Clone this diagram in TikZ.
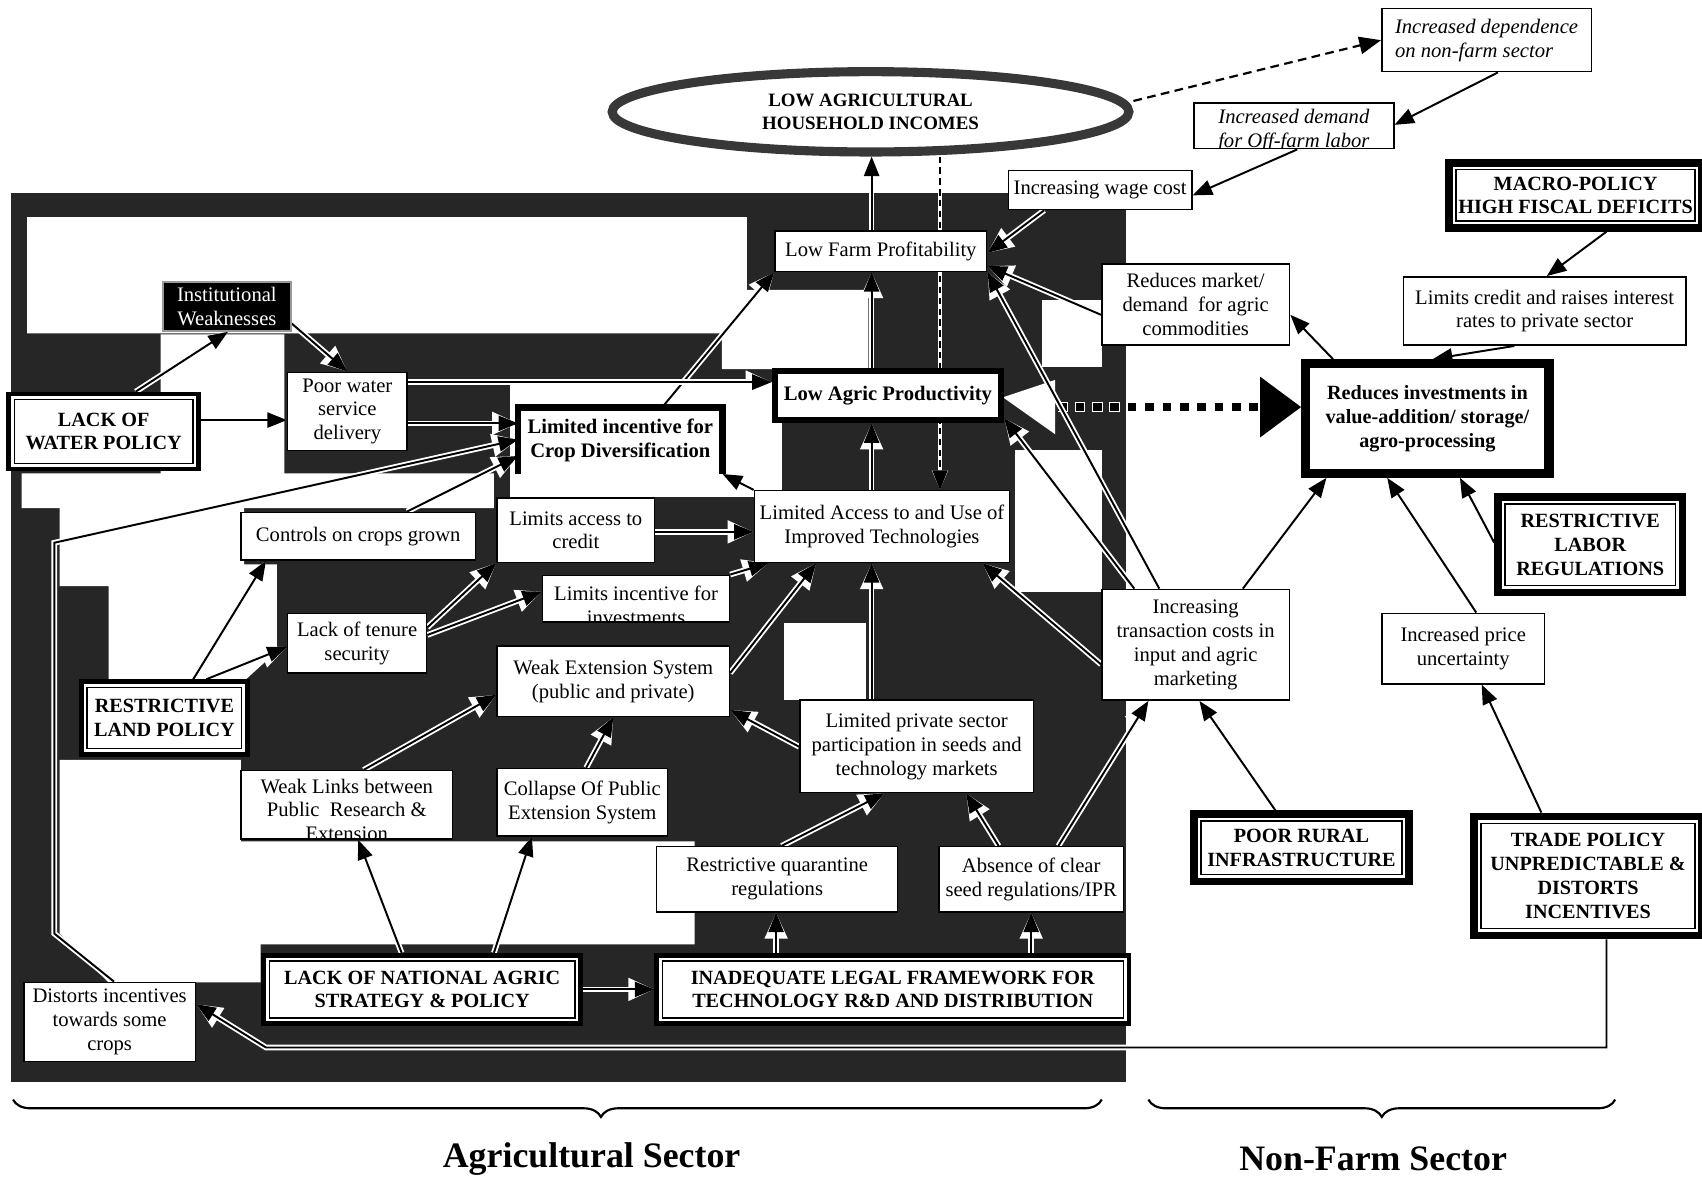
\documentclass[tikz,border=0pt]{standalone}
\usepackage{fontspec}
\setmainfont{Liberation Serif}
\usetikzlibrary{arrows.meta,shapes.geometric,decorations.pathreplacing,calc}
\pgfdeclarelayer{bg}
\pgfsetlayers{bg,main}
\newcommand{\nb}[7]{\node[#6, minimum width={(#4-#2)*0.5pt}, minimum height={(#5-#3)*0.5pt}] (#1) at ({(#2+#4)/2},{(#3+#5)/2}) {#7};}
\tikzset{
 bx/.style={draw=black, line width=0.7pt, fill=white, inner sep=0pt, align=center, font=\fontsize{9.5}{11}\selectfont},
 itb/.style={bx, align=left, font=\fontsize{9.5}{11}\selectfont\itshape},
 thk/.style={bx, line width=3pt, font=\fontsize{9.5}{11}\selectfont\bfseries},
 pol/.style={bx, line width=2.2pt, font=\fontsize{9.3}{11}\selectfont\bfseries,
   path picture={\draw[line width=0.6pt] ([shift={(2.6pt,-2.6pt)}]path picture bounding box.north west) rectangle ([shift={(-2.6pt,2.6pt)}]path picture bounding box.south east);}},
 polw/.style={bx, line width=3.4pt, font=\fontsize{9.3}{11}\selectfont\bfseries,
   path picture={\draw[line width=0.6pt] ([shift={(3.2pt,-3.2pt)}]path picture bounding box.north west) rectangle ([shift={(-3.2pt,3.2pt)}]path picture bounding box.south east);}},
 ar/.style={preaction={draw=white, line width=2.6pt, -{Triangle[length=12pt,width=10pt]}}, draw=black, line width=0.9pt, -{Triangle[length=9pt,width=7pt]}},
 dar/.style={draw=black, line width=1pt, dash pattern=on 4pt off 2.5pt, -{Triangle[length=10pt,width=8pt]}},
 vdar/.style={preaction={draw=white, line width=1.8pt}, draw=black, line width=0.6pt, dash pattern=on 3pt off 2pt, -{Triangle[length=9pt,width=7pt]}},
 brc/.style={decorate, line width=1pt, decoration={brace, mirror, amplitude=8pt}},
 ttl/.style={font=\fontsize{16.5}{18}\selectfont\bfseries, inner sep=0pt},
}
\begin{document}
\begin{tikzpicture}[x=0.5pt,y=-0.5pt]
\useasboundingbox (0,0) rectangle (1568,1084);

% ---------- nodes ----------
\node[ellipse, draw=black!78, line width=4.2pt, fill=white, inner sep=0pt, minimum width=238pt, minimum height=37pt, align=center, font=\fontsize{8.7}{10.5}\selectfont\bfseries] (ell) at (802,103) {LOW AGRICULTURAL\\HOUSEHOLD INCOMES};
\nb{dep}{1273}{8}{1466}{66}{itb}{Increased dependence\\on non-farm sector}
\nb{dem}{1100}{95}{1284}{137}{bx, path picture={\node[align=center, inner sep=0pt, font=\fontsize{9.5}{11}\selectfont\itshape] at ([yshift=-2pt]path picture bounding box.center) {Increased demand\\for Off-farm labor};}}{}
\nb{wage}{929}{157}{1098}{193}{bx}{Increasing wage cost}
\nb{macro}{1335}{150}{1568}{210}{polw}{MACRO-POLICY\\HIGH FISCAL DEFICITS}
\nb{lfp}{714}{213}{909}{250}{bx}{Low Farm Profitability}
\nb{rmk}{1015}{243}{1188}{318}{bx}{Reduces market/\\demand~ for agric\\commodities}
\nb{lcr}{1293}{255}{1553}{318}{bx}{Limits credit and raises interest\\rates to private sector}
\nb{inst}{150}{260}{268}{305}{bx, fill=black, text=white, draw=black!40}{Institutional\\Weaknesses}
\nb{lwp}{8}{363}{183}{432}{pol}{LACK OF\\WATER POLICY}
\nb{pwd}{265}{343}{375}{415}{bx}{Poor water\\service\\delivery}
\nb{lic}{478}{376}{665}{436}{bx, draw=none, font=\fontsize{9.5}{11}\selectfont\bfseries}{Limited incentive for\\Crop Diversification}
\draw[line width=3pt] (lic.south west) -- (lic.north west) -- (lic.north east) -- (lic.south east);
\nb{lap}{714}{342}{922}{387}{thk}{Low Agric Productivity}
\nb{rinv}{1203}{335}{1427}{436}{bx, line width=4.2pt, font=\fontsize{9.3}{11}\selectfont\bfseries}{Reduces investments in\\value-addition/ storage/\\agro-processing}
\nb{lac}{458}{459}{603}{518}{bx}{Limits access to\\credit}
\nb{lat}{695}{452}{930}{518}{bx}{Limited Access to and Use of\\Improved Technologies}
\nb{ccg}{222}{472}{438}{516}{bx}{Controls on crops grown}
\nb{lii}{500}{530}{672}{573}{bx, path picture={\node[align=center, inner sep=0pt, font=\fontsize{9.5}{11}\selectfont] at ([yshift=-3pt]path picture bounding box.center) {Limits incentive for\\investments};}}{}
\nb{rlr}{1380}{458}{1550}{546}{polw}{RESTRICTIVE\\LABOR\\REGULATIONS}
\nb{lts}{265}{565}{393}{620}{bx}{Lack of tenure\\security}
\nb{itc}{1015}{543}{1188}{645}{bx}{Increasing\\transaction costs in\\input and agric\\marketing}
\nb{ipu}{1273}{565}{1423}{630}{bx}{Increased price\\uncertainty}
\nb{wes}{458}{595}{672}{660}{bx}{Weak Extension System\\(public and private)}
\nb{rlp}{75}{628}{228}{695}{pol}{RESTRICTIVE\\LAND POLICY}
\nb{lps}{737}{645}{952}{730}{bx}{Limited private sector\\participation in seeds and\\technology markets}
\nb{wlk}{222}{710}{417}{773}{bx, path picture={\node[align=center, inner sep=0pt, font=\fontsize{9.5}{11}\selectfont] at ([yshift=-2.3pt]path picture bounding box.center) {Weak Links between\\Public~ Research \&\\Extension};}}{}
\nb{cop}{458}{708}{615}{770}{bx}{Collapse Of Public\\Extension System}
\nb{rqr}{605}{780}{827}{840}{bx}{Restrictive quarantine\\regulations}
\nb{acs}{865}{780}{1035}{840}{bx}{Absence of clear\\seed regulations/IPR}
\nb{pri}{1100}{750}{1298}{812}{polw}{POOR RURAL\\INFRASTRUCTURE}
\nb{trd}{1358}{752}{1568}{862}{polw}{TRADE POLICY\\UNPREDICTABLE \&\\DISTORTS\\INCENTIVES}
\nb{lna}{243}{880}{535}{943}{pol}{LACK OF NATIONAL AGRIC\\STRATEGY \& POLICY}
\nb{ilf}{605}{880}{1040}{943}{pol}{INADEQUATE LEGAL FRAMEWORK FOR\\TECHNOLOGY R\&D AND DISTRIBUTION}
\nb{dis}{22}{905}{180}{978}{bx}{Distorts incentives\\towards some\\crops}

\node[ttl] (tag) at (545,1068) {Agricultural Sector};
\node[ttl] (tnf) at (1265,1068) {Non-Farm Sector};
\coordinate (ba1) at (12,1013);
\coordinate (ba2) at (1015,1013);
\coordinate (bn1) at (1058,1013);
\coordinate (bn2) at (1488,1013);
\draw[brc, decoration={aspect=0.54}] (ba1) -- (ba2);
\draw[brc] (bn1) -- (bn2);

% ---------- background & connectors ----------
\begin{pgfonlayer}{bg}
\fill[white] (0,0) rectangle (1568,1084);
\fill[black!85] (10,178) rectangle (1037,997);
\fill[white] (25,200) -- (688,200) -- (688,267) -- (800,267) -- (800,340) -- (665,340) -- (665,307) -- (25,307) -- cycle;
\fill[white] (148,308) -- (262,308) -- (262,436) -- (455,436) -- (455,468) -- (20,468) -- (20,436) -- (148,436) -- cycle;
\fill[white] (55,468) -- (225,468) -- (225,520) -- (255,520) -- (255,600) -- (222,630) -- (100,630) -- (100,540) -- (55,540) -- cycle;
\fill[white] (55,700) -- (222,700) -- (222,775) -- (640,775) -- (640,870) -- (240,870) -- (240,905) -- (100,905) -- (55,860) -- cycle;
\fill[white] (470,352) -- (720,352) -- (720,458) -- (470,458) -- cycle;
\fill[white] (935,415) -- (1015,415) -- (1015,545) -- (935,545) -- cycle;
\fill[white] (960,276) -- (1015,276) -- (1015,338) -- (960,338) -- cycle;
\fill[white] (722,574) -- (798,574) -- (798,645) -- (722,645) -- cycle;
\fill[white] (924,366) -- (972,350) -- (972,400) -- cycle;

% dashed
\draw[dar] ([yshift=5pt]ell.east) -- (dep.west);
\draw[vdar] (ell.south -| 866,0) -- (lat.north -| 866,0);
% big dotted arrow
\coordinate (dst) at (975,375);
\draw[white, line width=5pt, dash pattern=on 5pt off 3pt, dash phase=0.5pt] (dst) -- (1040,375);
\draw[line width=4pt, dash pattern=on 4pt off 4pt, -{Triangle[length=19pt,width=27pt]}] (dst) -- (rinv.west |- 0,375);

% top chain
\draw[ar] (lfp.north -| 803,0) -- (ell.south -| 803,0);
\draw[ar] (dep.south -| 1380,0) -- (dem.east |- 0,115);
\draw[ar] (dem.south -| 1195,0) -- (wage.east |- 0,180);
\draw[ar] (wage.south -| 962,0) -- (lfp.east |- 0,233);
\draw[ar] (rmk.west |- 0,290) -- (lfp.east |- 0,245);
\draw[ar] (lap.north -| 803,0) -- (lfp.south -| 803,0);
\draw[ar] (lic.north -| 610,0) -- (lfp.south west);
\draw[ar] (itc.north -| 1068,0) -- (lfp.south east);
\draw[ar] (itc.north -| 1045,0) -- (lap.east |- 0,385);

% non-farm
\draw[ar] (macro.south -| 1480,0) -- (lcr.north -| 1425,0);
\draw[ar] (lcr.south -| 1395,0) -- (rinv.north -| 1320,0);
\draw[ar] (rinv.north -| 1228,0) -- (rmk.east |- 0,290);
\draw[ar] (itc.north -| 1145,0) -- (rinv.south -| 1222,0);
\draw[ar] (ipu.north -| 1360,0) -- (rinv.south -| 1278,0);
\draw[ar] (rlr.west |- 0,500) -- (rinv.south -| 1345,0);
\draw[ar] (pri.north -| 1175,0) -- (itc.south -| 1105,0);
\draw[ar] (trd.north -| 1420,0) -- (ipu.south -| 1365,0);
\draw[ar] (trd.south -| 1480,0) -- (1480,965) -- (245,965) -- (dis.east |- 0,925);

% bottom
\draw[ar] (acs.north -| 975,0) -- (itc.south -| 1058,0);
\draw[ar] (acs.north -| 920,0) -- (lps.south -| 890,0);
\draw[ar] (rqr.north -| 720,0) -- (lps.south -| 815,0);
\draw[ar] (ilf.north -| 715,0) -- (rqr.south -| 715,0);
\draw[ar] (ilf.north -| 950,0) -- (acs.south -| 950,0);
\draw[ar] (lna.east) -- (ilf.west);
\draw[ar] (lna.north -| 370,0) -- (wlk.south -| 330,0);
\draw[ar] (lna.north -| 455,0) -- (cop.south -| 490,0);
\draw[ar] (wlk.north -| 335,0) -- (wes.west |- 0,640);
\draw[ar] (cop.north -| 540,0) -- (wes.south -| 565,0);
\draw[ar] (lps.west |- 0,688) -- (wes.east |- 0,654);
\draw[ar] (wes.east |- 0,620) -- (lat.south -| 752,0);
\draw[ar] (lps.north -| 803,0) -- (lat.south -| 803,0);
\draw[ar] (itc.west |- 0,612) -- (lat.south -| 905,0);
\draw[ar] (lac.east |- 0,490) -- (lat.west |- 0,490);
\draw[ar] (lii.north east) -- (lat.south -| 708,0);
\draw[ar] (lts.east |- 0,578) -- (lac.south west);
\draw[ar] (lts.east |- 0,585) -- (lii.west |- 0,545);
\draw[ar] (rlp.north -| 178,0) -- (ccg.south -| 245,0);
\draw[ar] (rlp.north -| 190,0) -- (lts.west |- 0,596);
\draw[ar] (ccg.north -| 375,0) -- (lic.west |- 0,420);
\draw[ar] (dis.north -| 105,0) -- (50,860) -- (50,500) -- (lic.west |- 0,405);
\draw[ar] (pwd.east |- 0,390) -- (lic.west |- 0,390);
\draw[ar] (pwd.east |- 0,352) -- (lap.west |- 0,352);
\draw[ar] (lwp.east |- 0,387) -- (pwd.west |- 0,387);
\draw[ar] (lwp.north -| 125,0) -- (inst.south -| 210,0);
\draw[ar] (inst.east |- 0,298) -- (pwd.north -| 320,0);
\draw[ar] (lat.north west) -- (lic.south east);
\draw[ar] (lat.north -| 803,0) -- (lap.south -| 803,0);
\end{pgfonlayer}
\end{tikzpicture}
\end{document}
